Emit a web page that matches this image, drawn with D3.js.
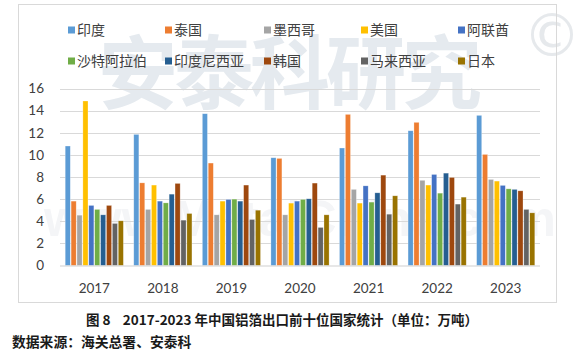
<!DOCTYPE html>
<html><head><meta charset="utf-8">
<script src="https://cdn.jsdelivr.net/npm/d3@7"></script>
<style>
html,body{margin:0;padding:0;background:#fff;}
svg{display:block;}
</style></head>
<body>
<svg id="chart" width="580" height="356"></svg>
<script>
const years = ["2017","2018","2019","2020","2021","2022","2023"];
const countries = ["印度","泰国","墨西哥","美国","阿联酋","沙特阿拉伯","印度尼西亚","韩国","马来西亚","日本"];
const colors = ["#5B9BD5","#ED7D31","#A5A5A5","#FFC000","#4472C4","#70AD47","#255E91","#9E480E","#636363","#997300"];
const india     = [10.8, 11.85, 13.72, 9.74, 10.62, 12.18, 13.57];
const thailand  = [5.82, 7.47, 9.26, 9.68, 13.66, 12.94, 10.04];
const mexico    = [4.55, 5.07, 4.58, 4.58, 6.88, 7.7, 7.78];
const usa       = [14.87, 7.27, 5.82, 5.64, 5.64, 7.27, 7.63];
const uae       = [5.43, 5.82, 5.97, 5.82, 7.2, 8.23, 7.24];
const saudi     = [5.07, 5.66, 6.0, 5.97, 5.73, 6.54, 6.93];
const indonesia = [4.58, 6.45, 5.82, 6.03, 6.57, 8.35, 6.88];
const korea     = [5.43, 7.42, 7.27, 7.45, 8.17, 7.96, 6.75];
const malaysia  = [3.8, 4.1, 4.16, 3.44, 4.64, 5.55, 5.07];
const japan     = [4.04, 4.7, 5.0, 4.58, 6.3, 6.18, 4.76];
const seriesValues = [india, thailand, mexico, usa, uae, saudi, indonesia, korea, malaysia, japan];
const yTicks = [0,2,4,6,8,10,12,14,16];
const captionText = "图 8\u00a0\u00a0\u00a0\u00a02017-2023 年中国铝箔出口前十位国家统计（单位：万吨）";
const sourceText = "数据来源：海关总署、安泰科";

const svg = d3.select("#chart");
const cjk = "'Noto Sans CJK SC','Noto Sans',sans-serif";
const num = "Lato,'Noto Sans',sans-serif";

// watermark
const wm = svg.append("g");
wm.append("text").attr("x", 288).attr("y", 102).attr("text-anchor","middle")
  .attr("font-family", cjk).attr("font-weight", 700).attr("font-size", 80)
  .attr("fill", "#e5eaef").attr("letter-spacing", -4).text("安泰科研究");
wm.append("text").attr("x", 552).attr("y", 56).attr("text-anchor","middle")
  .attr("font-family", "'DejaVu Sans',sans-serif").attr("font-size", 58)
  .attr("fill", "#e6e9ec").text("©");
wm.append("text").attr("x", 300).attr("y", 236).attr("text-anchor","middle")
  .attr("font-family", "'Liberation Sans',sans-serif").attr("font-weight", 700).attr("font-size", 50)
  .attr("fill", "#f4f5f7").text("www.MetalChina.com");

// chart border
svg.append("rect").attr("x", 18.5).attr("y", 4.5).attr("width", 538).attr("height", 298)
  .attr("fill", "none").attr("stroke", "#d9d9d9");

const x0 = d3.scaleBand().domain(years).range([60, 540]).paddingInner(0.14).paddingOuter(0.07);
const x1 = d3.scaleBand().domain(countries).range([0, x0.bandwidth()]);
const y = d3.scaleLinear().domain([0, 16]).range([265.5, 88.5]);

// gridlines
svg.append("g").selectAll("line").data(yTicks.slice(1)).join("line")
  .attr("x1", 60).attr("x2", 540)
  .attr("y1", d => Math.round(y(d)) + 0.5).attr("y2", d => Math.round(y(d)) + 0.5)
  .attr("stroke", "#d9d9d9").attr("stroke-width", 1);

// y axis labels
const yAxis = d3.axisLeft(y).tickValues(yTicks).tickSize(0).tickPadding(0);
const ya = svg.append("g").attr("transform", "translate(44,0)").call(yAxis);
ya.select(".domain").remove();
ya.selectAll("text").attr("font-family", num).attr("font-size", 13.5).attr("fill", "#404040");

// bars
const groups = svg.append("g").selectAll("g").data(years).join("g")
  .attr("transform", d => `translate(${x0(d)},0)`);
groups.selectAll("rect").data((yr, i) => countries.map((c, j) => ({c, v: seriesValues[j][i], col: colors[j]})))
  .join("rect")
  .attr("x", d => x1(d.c) + 0.4)
  .attr("width", x1.bandwidth() - 0.8)
  .attr("y", d => y(d.v))
  .attr("height", d => y(0) - y(d.v))
  .attr("fill", d => d.col)
  .attr("stroke", "rgba(255,255,255,0.45)").attr("stroke-width", 0.6);

// x axis
const xAxis = d3.axisBottom(x0).tickSize(0).tickPadding(0);
const xa = svg.append("g").attr("transform", `translate(0,${y(0)})`).call(xAxis);
xa.select(".domain").attr("stroke", "#d0d0d0").attr("stroke-width", 1.2).attr("d", "M60,0.5H540");
xa.selectAll("text").attr("dy", null).attr("y", 27).attr("font-family", num).attr("font-size", 13.5).attr("fill", "#404040");

// legend
const legX = [68, 165, 264, 361, 458];
const legY = [30, 61];
const leg = svg.append("g").selectAll("g").data(countries).join("g")
  .attr("transform", (d, i) => `translate(${legX[i % 5]},${legY[Math.floor(i / 5)]})`);
leg.append("rect").attr("x", 0).attr("y", -3.5).attr("width", 7).attr("height", 7)
  .attr("fill", (d, i) => colors[i]);
leg.append("text").attr("x", 9).attr("y", 5).attr("font-family", cjk).attr("font-size", 14)
  .attr("fill", "#404040").text(d => d);

// caption & source
svg.append("text").attr("x", 86).attr("y", 325).attr("font-family", cjk).attr("font-weight", 700)
  .attr("font-size", 13.5).attr("fill", "#1a1a1a").text(captionText);
svg.append("text").attr("x", 12).attr("y", 346.5).attr("font-family", cjk).attr("font-weight", 700)
  .attr("font-size", 13.8).attr("fill", "#1a1a1a").text(sourceText);
</script>
</body></html>
